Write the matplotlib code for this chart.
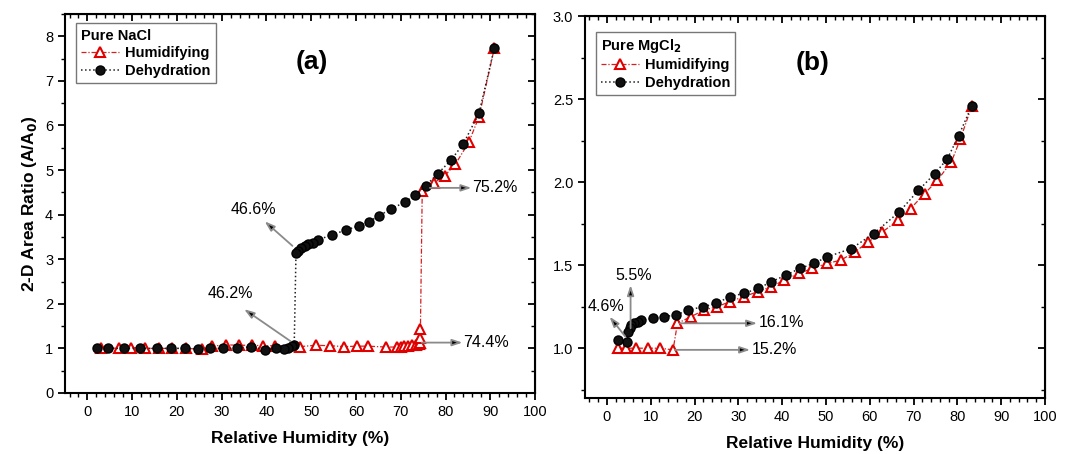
import matplotlib
matplotlib.use("Agg")
import matplotlib.pyplot as plt
from matplotlib.ticker import MultipleLocator

plt.rcParams['font.family'] = ['Liberation Sans', 'DejaVu Sans']

# ---- panel (a) : pure NaCl ----
nacl_hum_rh = [3.0, 7.0, 9.8, 12.8, 16.0, 19.0, 22.0, 25.5, 27.8, 31.0, 33.8, 36.7, 39.3, 42.0,
               47.5, 51.0, 54.2, 57.4, 60.3, 62.7, 66.7, 69.2, 70.0, 70.8, 71.7, 72.5, 73.4,
               74.0, 74.4, 74.4, 74.4, 74.8, 77.5, 79.8, 82.2, 85.2, 87.5, 90.9]
nacl_hum_ratio = [1.02, 1.00, 1.02, 1.00, 1.00, 1.00, 1.00, 0.98, 1.05, 1.08, 1.07, 1.07, 1.06, 1.06,
                  1.04, 1.07, 1.06, 1.04, 1.05, 1.05, 1.03, 1.03, 1.04, 1.05, 1.06, 1.07, 1.08,
                  1.10, 1.13, 1.24, 1.43, 4.52, 4.72, 4.87, 5.13, 5.62, 6.20, 7.73]

nacl_deh_rh = [90.9, 87.5, 84.0, 81.3, 78.3, 75.6, 73.1, 70.9, 67.9, 65.2, 62.9, 60.6, 57.7,
               54.6, 51.5, 50.4, 49.2, 48.5, 47.7, 47.0, 46.6,
               46.2, 45.8, 44.9, 44.0, 42.1, 39.6, 36.6, 33.5, 30.4, 27.4, 24.6, 21.8, 18.7,
               15.5, 11.7, 8.1, 4.6, 2.2]
nacl_deh_ratio = [7.73, 6.28, 5.59, 5.23, 4.92, 4.65, 4.43, 4.28, 4.13, 3.98, 3.84, 3.75, 3.65,
                  3.55, 3.43, 3.37, 3.34, 3.30, 3.25, 3.18, 3.14,
                  1.07, 1.05, 1.02, 0.99, 1.00, 0.97, 1.04, 1.00, 1.00, 1.00, 0.99, 1.00, 1.00,
                  1.00, 1.00, 1.00, 1.00, 1.00]

# ---- panel (b) : pure MgCl2 ----
mgcl_hum_rh = [2.5, 4.4, 6.6, 9.4, 12.1, 15.1, 16.1, 19.2, 22.2, 25.1, 28.1, 31.2, 34.4, 37.5,
               40.5, 43.8, 46.9, 50.2, 53.4, 56.6, 59.7, 62.9, 66.4, 69.3, 72.5, 75.4, 78.6,
               80.7, 83.3]
mgcl_hum_ratio = [1.00, 1.00, 1.00, 1.00, 1.00, 0.99, 1.15, 1.19, 1.23, 1.25, 1.28, 1.31, 1.34,
                  1.37, 1.41, 1.45, 1.48, 1.51, 1.53, 1.58, 1.64, 1.70, 1.77, 1.84, 1.93, 2.01,
                  2.12, 2.26, 2.46]

mgcl_deh_rh = [83.3, 80.3, 77.7, 74.8, 71.1, 66.7, 60.9, 55.8, 50.3, 47.2, 44.0, 40.9, 37.5,
               34.6, 31.2, 28.1, 24.9, 22.0, 18.6, 15.8, 13.0, 10.6, 7.7, 7.0, 6.2, 5.5, 5.2,
               4.9, 4.6, 2.5]
mgcl_deh_ratio = [2.46, 2.28, 2.14, 2.05, 1.95, 1.82, 1.69, 1.60, 1.55, 1.51, 1.48, 1.44, 1.40,
                  1.36, 1.33, 1.31, 1.27, 1.25, 1.23, 1.20, 1.19, 1.18, 1.17, 1.16, 1.15, 1.14,
                  1.12, 1.10, 1.04, 1.05]

x_ticks = [0, 10, 20, 30, 40, 50, 60, 70, 80, 90, 100]

fig = plt.figure(figsize=(10.66, 4.54), dpi=100)
ax_a = fig.add_axes([0.061, 0.1344, 0.4409, 0.8348])
ax_b = fig.add_axes([0.5488, 0.1233, 0.4315, 0.8414])

label_font = dict(fontsize=12.5, fontweight='bold')


def style_axes(ax, ymaj, ymin):
    ax.set_xlim(-5, 100)
    ax.set_xticks(x_ticks)
    ax.xaxis.set_minor_locator(MultipleLocator(2))
    ax.yaxis.set_major_locator(MultipleLocator(ymaj))
    ax.yaxis.set_minor_locator(MultipleLocator(ymin))
    ax.tick_params(which='major', direction='out', length=5, width=1.3, labelsize=10.5)
    ax.tick_params(which='minor', direction='out', length=3, width=1.0)
    for s in ax.spines.values():
        s.set_linewidth(1.5)
    # inward ticks on top and right, as in the original
    top = ax.secondary_xaxis('top')
    top.set_xticks(x_ticks)
    top.xaxis.set_minor_locator(MultipleLocator(2))
    top.tick_params(which='major', direction='in', length=5, width=1.3, labeltop=False)
    top.tick_params(which='minor', direction='in', length=3, width=1.0)
    right = ax.secondary_yaxis('right')
    right.yaxis.set_major_locator(MultipleLocator(ymaj))
    right.yaxis.set_minor_locator(MultipleLocator(ymin))
    right.tick_params(which='major', direction='in', length=5, width=1.3, labelright=False)
    right.tick_params(which='minor', direction='in', length=3, width=1.0)
    ax.set_xlabel('Relative Humidity (%)', labelpad=9, **label_font)


def draw_series(ax, hx, hy, dx, dy):
    ax.plot(hx, hy, color='#d42020', linestyle=(0, (4, 1.5, 1, 1.5)), linewidth=0.9,
            marker='^', markersize=6.5, markerfacecolor='white', markeredgecolor='#e00000',
            markeredgewidth=1.5, label='Humidifying')
    ax.plot(dx, dy, color='#222222', linestyle=':', linewidth=1.1,
            marker='o', markersize=6.5, markerfacecolor='#111111', markeredgecolor='black',
            label='Dehydration')


def arrow(ax, text, tail, head, text_xy, ha='center'):
    ax.annotate('', xy=head, xytext=tail,
                arrowprops=dict(arrowstyle='-|>,head_length=0.6,head_width=0.2',
                                ec='#8a8a8a', fc='black', lw=1.3, shrinkA=0, shrinkB=0))
    ax.text(text_xy[0], text_xy[1], text, ha=ha, va='center', fontsize=11.5)


def add_legend(ax, title, anchor):
    leg = ax.legend(title=title, loc='upper left', bbox_to_anchor=anchor, borderaxespad=0,
                    fancybox=False, edgecolor='#777777', framealpha=1, handlelength=2.6,
                    handletextpad=0.4, borderpad=0.35, labelspacing=0.25,
                    prop=dict(weight='bold', size=10.5))
    leg.get_title().set_fontweight('bold')
    leg.get_title().set_fontsize(10.5)
    leg._legend_box.align = 'left'
    leg.get_frame().set_linewidth(1.0)


# panel (a)
draw_series(ax_a, nacl_hum_rh, nacl_hum_ratio, nacl_deh_rh, nacl_deh_ratio)
ax_a.set_ylim(0, 8.5)
style_axes(ax_a, 1, 0.5)
ax_a.set_ylabel('2-D Area Ratio (A/A$_\\mathbf{0}$)', labelpad=4, **label_font)
ax_a.text(50.2, 7.42, '(a)', ha='center', va='center', fontsize=19, fontweight='bold')
arrow(ax_a, '75.2%', (76.5, 4.6), (85.8, 4.6), (85.9, 4.6), ha='left')
arrow(ax_a, '74.4%', (74.7, 1.13), (83.8, 1.13), (83.9, 1.14), ha='left')
arrow(ax_a, '46.6%', (45.8, 3.3), (39.6, 3.85), (37.0, 4.12))
arrow(ax_a, '46.2%', (45.4, 1.16), (35.0, 1.88), (32.0, 2.22))
add_legend(ax_a, 'Pure NaCl', (0.024, 0.975))

# panel (b)
draw_series(ax_b, mgcl_hum_rh, mgcl_hum_ratio, mgcl_deh_rh, mgcl_deh_ratio)
ax_b.set_ylim(0.7, 3.0)
style_axes(ax_b, 0.5, 0.25)
ax_b.text(47.0, 2.72, '(b)', ha='center', va='center', fontsize=19, fontweight='bold')
arrow(ax_b, '16.1%', (16.7, 1.15), (34.3, 1.15), (34.6, 1.155), ha='left')
arrow(ax_b, '15.2%', (15.5, 0.99), (32.7, 0.99), (33.0, 0.995), ha='left')
arrow(ax_b, '5.5%', (5.4, 1.12), (5.4, 1.38), (6.2, 1.44))
arrow(ax_b, '4.6%', (4.2, 1.07), (0.6, 1.19), (-0.2, 1.25))
add_legend(ax_b, 'Pure MgCl$_\\mathbf{2}$', (0.024, 0.959))

fig.savefig('out.png', dpi=100)
